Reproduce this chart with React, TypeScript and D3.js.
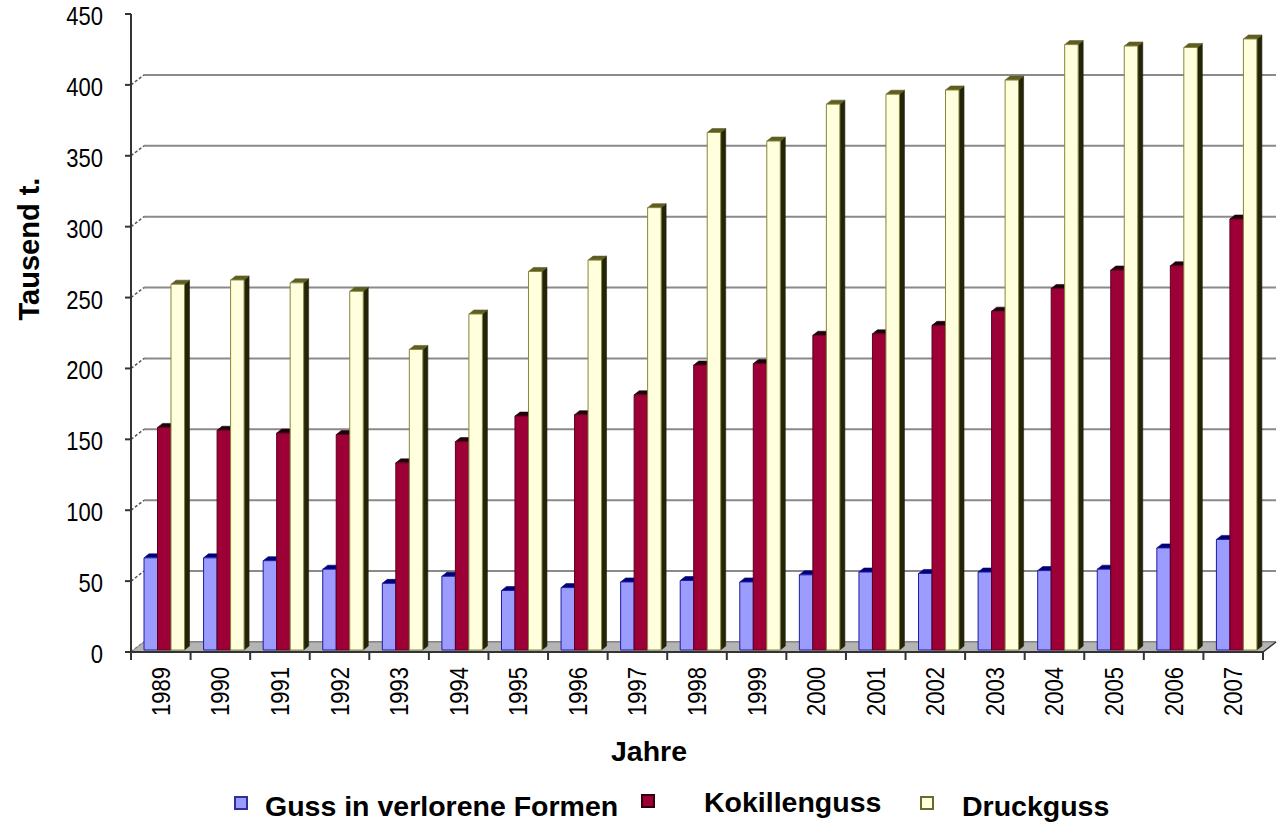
import React from 'react';
import * as d3 from 'd3';

// Aluminium casting production by process, in thousand tonnes
const years = ['1989', '1990', '1991', '1992', '1993', '1994', '1995', '1996', '1997', '1998',
  '1999', '2000', '2001', '2002', '2003', '2004', '2005', '2006', '2007'];
const gussVerloreneFormen = [65, 65, 63, 57, 47, 52, 42, 44, 48, 49, 48, 53, 55, 54, 55, 56, 57, 72, 78];
const kokillenguss = [157, 155, 153, 152, 132, 147, 165, 166, 180, 201, 202, 222, 223, 229, 239, 255, 268, 271, 304];
const druckguss = [258, 261, 259, 253, 212, 237, 267, 275, 312, 365, 359, 385, 392, 395, 402, 427, 426, 425, 431];
const seriesNames = ['Guss in verlorene Formen', 'Kokillenguss', 'Druckguss'];
const yTicks = [0, 50, 100, 150, 200, 250, 300, 350, 400, 450];

const W = 1279;
const H = 826;
const FONT = '"Liberation Sans", Arial, sans-serif';

// plot frame (front plane) and 3D depth offset of the back wall
const x0 = 131;
const x1 = 1263;
const yFront = d3.scaleLinear().domain([0, 450]).range([652, 14]);
const DX = 13;
const DY = -10;
// bars stand slightly behind the front plane
const yBar = d3.scaleLinear().domain([0, 450]).range([650, 12]);
const barDX = 5;
const barDY = -4;

const xCat = d3.scaleBand<string>().domain(years).range([x0, x1]).padding(0);
const xSeries = d3.scaleBand<number>().domain([0, 1, 2]).range([13, 13 + 40.5]).padding(0);

const styles = [
  { front: '#9c9cff', top: '#000078', side: '#10105a', stroke: '#1c1ca0' },
  { front: '#9c0036', top: '#22000a', side: '#300010', stroke: '#5a0020' },
  { front: '#ffffde', top: '#5e5e22', side: '#24240a', stroke: '#85853c' },
];

const seriesValues = [gussVerloreneFormen, kokillenguss, druckguss];

// narrow glyphs for the axis labels
const NARROW = 0.88;

function Bar({ x, v, s }: { x: number; v: number; s: number }) {
  const st = styles[s];
  const bw = xSeries.bandwidth();
  const yt = yBar(v);
  const yb = yBar(0);
  const front = `M${x},${yb}L${x},${yt}L${x + bw},${yt}L${x + bw},${yb}Z`;
  const top = `M${x},${yt}L${x + barDX},${yt + barDY}L${x + bw + barDX},${yt + barDY}L${x + bw},${yt}Z`;
  const side = `M${x + bw},${yt}L${x + bw + barDX},${yt + barDY}L${x + bw + barDX},${yb + barDY}L${x + bw},${yb}Z`;
  return (
    <g>
      <path d={side} fill={st.side} stroke={st.side} strokeWidth={0.6} />
      <path d={top} fill={st.top} stroke={st.top} strokeWidth={0.6} />
      <path d={front} fill={st.front} stroke={st.stroke} strokeWidth={1} />
    </g>
  );
}

export default function App() {
  const gridTicks = yTicks.filter((t) => t < 450);
  const boundaries = years.map((y) => xCat(y) as number).concat([x1]);

  const legendItems = [
    { sq: 235, text: 265, y: 816, sqY: 797 },
    { sq: 642, text: 704, y: 812, sqY: 795 },
    { sq: 921, text: 962, y: 816, sqY: 797 },
  ];

  return (
    <svg width={W} height={H} style={{ position: 'absolute', left: 0, top: 0, background: '#fff' }}
      fontFamily={FONT}>
      <rect x={0} y={0} width={W} height={H} fill="#ffffff" />

      {/* back wall gridlines */}
      {gridTicks.map((t) => (
        <line key={'g' + t} x1={x0 + DX} x2={x1 + DX} y1={yFront(t) + DY} y2={yFront(t) + DY}
          stroke="#8a8a8a" strokeWidth={2} />
      ))}
      {/* side wall gridlines */}
      {gridTicks.map((t) => (
        <line key={'s' + t} x1={x0} x2={x0 + DX} y1={yFront(t)} y2={yFront(t) + DY}
          stroke="#555" strokeWidth={1.5} strokeDasharray="3 2" />
      ))}

      {/* floor */}
      <path d={`M${x0},${yFront(0)}L${x1},${yFront(0)}L${x1 + DX},${yFront(0) + DY}L${x0 + DX},${yFront(0) + DY}Z`}
        fill="#b4b4b4" stroke="#808080" strokeWidth={1} />

      {/* bars */}
      {years.map((yr, i) => (
        <g key={yr}>
          {seriesValues.map((vals, s) => (
            <Bar key={s} x={(xCat(yr) as number) + (xSeries(s) as number)} v={vals[i]} s={s} />
          ))}
        </g>
      ))}

      {/* value axis */}
      <line x1={x0} x2={x0} y1={yFront(450)} y2={yFront(0)} stroke="#333" strokeWidth={2} />
      {yTicks.map((t) => (
        <g key={'yt' + t}>
          <line x1={x0 - 6} x2={x0} y1={yFront(t)} y2={yFront(t)} stroke="#333" strokeWidth={2} />
          <text transform={`translate(103,${yFront(t) + 2}) scale(${NARROW},1)`} dy="0.36em" textAnchor="end"
            fontSize={25} fill="#000">{t}</text>
        </g>
      ))}

      {/* category axis */}
      <line x1={x0} x2={x1} y1={yFront(0)} y2={yFront(0)} stroke="#333" strokeWidth={2} />
      <line x1={x1} x2={x1 + DX} y1={yFront(0)} y2={yFront(0) + DY} stroke="#333" strokeWidth={1.5} />
      {boundaries.map((bx, i) => (
        <line key={'xt' + i} x1={bx} x2={bx} y1={yFront(0)} y2={yFront(0) + 8} stroke="#333" strokeWidth={2} />
      ))}
      {years.map((yr) => {
        const cx = (xCat(yr) as number) + xCat.bandwidth() / 2;
        return (
          <text key={'xl' + yr} transform={`translate(${cx + 9},667) rotate(-90) scale(${NARROW},1)`}
            textAnchor="end" fontSize={25} fill="#000">{yr}</text>
        );
      })}

      {/* axis titles */}
      <text transform="translate(39,249) rotate(-90)" textAnchor="middle" fontSize={29} fontWeight="bold"
        fill="#000">Tausend t.</text>
      <text x={649} y={761} textAnchor="middle" fontSize={28.5} fontWeight="bold" fill="#000">Jahre</text>

      {/* legend */}
      {legendItems.map((it, s) => (
        <g key={'lg' + s}>
          <rect x={it.sq} y={it.sqY} width={12} height={12} fill={styles[s].front}
            stroke={s === 0 ? '#30309a' : s === 1 ? '#300010' : '#6a6a30'} strokeWidth={2} />
          <text x={it.text} y={it.y} fontSize={28.5} fontWeight="bold" fill="#000">{seriesNames[s]}</text>
        </g>
      ))}
    </svg>
  );
}
